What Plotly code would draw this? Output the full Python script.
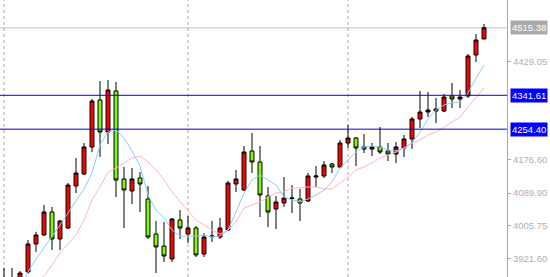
import plotly.graph_objects as go

# ---- data ----
opens = [3840, 3866, 3853, 3886.6, 3958.7, 3981.9, 4041.1, 3971.6, 3999.9, 4108,
         4138.9, 4208.5, 4329.5, 4247.1, 4352.7, 4126.1, 4095.2, 4128.6, 4074.6, 3984.4,
         3953.5, 3920.1, 4020.5, 3984.4, 3999.9, 3932.9, 3977.5, 3976.7, 3994.7, 4113.2,
         4097.7, 4198.2, 4169.8, 4082.3, 4048.8, 4064.3, 4075.9, 4074.6, 4069.4, 4131.2,
         4133.8, 4164.7, 4157, 4218.8, 4231.6, 4208.5, 4203.3, 4208.5, 4198.2, 4190.4,
         4205.9, 4229.1, 4280.6, 4298.6, 4306.3, 4301.2, 4339.8, 4332.1, 4339.8, 4445.4,
         4486.6]
highs = [3897, 3897, 3889.2, 3969, 3989.6, 4059.1, 4054, 4020.5, 4115.8, 4180.1,
         4218.8, 4332.1, 4378.4, 4381, 4375.8, 4157, 4154.4, 4144.1, 4108, 4017.9,
         4015.3, 4025.6, 4046.2, 4030.8, 4005, 3987, 4017.9, 4025.6, 4121, 4149.2,
         4211, 4244.5, 4211, 4105.5, 4082.3, 4131.2, 4110.6, 4100.3, 4141.5, 4159.5,
         4172.4, 4167.3, 4226.5, 4265.1, 4234.2, 4241.9, 4218.8, 4260, 4218.8, 4221.3,
         4239.4, 4285.7, 4352.7, 4350.1, 4334.6, 4344.9, 4373.3, 4355.2, 4447.9, 4499.4,
         4525.2]
lows = [3827, 3845, 3845, 3881.4, 3938.1, 3979.3, 3943.2, 3943.2, 3997.3, 4090,
        4136.4, 4195.6, 4182.7, 4216.2, 4079.7, 3999.9, 4061.7, 4041.1, 3971.6, 3884,
        3912.3, 3912.3, 3971.6, 3961.3, 3925.2, 3925.2, 3963.8, 3971.6, 3992.2, 4092.6,
        4095.2, 4141.5, 4028.2, 4002.5, 3997.3, 4054, 4038.5, 4017.9, 4066.8, 4105.5,
        4128.6, 4141.5, 4154.4, 4205.9, 4159.5, 4193, 4185.3, 4190.4, 4172.4, 4167.3,
        4182.7, 4203.3, 4257.4, 4285.7, 4270.3, 4298.6, 4308.9, 4308.9, 4334.6, 4427.3,
        4486.6]
closes = [3866, 3858, 3884, 3958.7, 3981.9, 4041.1, 3971.6, 4017.9, 4110.6, 4141.5,
          4208.5, 4326.9, 4247.1, 4355.2, 4123.5, 4097.7, 4126.1, 4113.2, 3976.7, 3951,
          3927.8, 4023.1, 3999.9, 3999.9, 3930.4, 3976.7, 3979.3, 3999.9, 4115.8, 4126.1,
          4195.6, 4169.8, 4084.9, 4041.1, 4066.8, 4077.1, 4077.1, 4064.3, 4133.8, 4133.8,
          4162.1, 4157, 4218.8, 4231.6, 4205.9, 4203.3, 4208.5, 4195.6, 4190.4, 4208.5,
          4229.1, 4280.6, 4298.6, 4303.7, 4301.2, 4337.2, 4332.1, 4337.2, 4442.8, 4484,
          4515.38]
ma_fast = [None, None, 3840.2, 3886.6, 3920.1, 3948.4, 3979.3, 4007.6, 4038.5, 4069.4,
           4100.3, 4141.5, 4213.6, 4247.1, 4252.2, 4231.6, 4198.2, 4159.5, 4084.9, 4046.2,
           4025.6, 3994.7, 3979.3, 3979.3, 3979.3, 3981.9, 3976.7, 3979.3, 3994.7, 4041.1,
           4090, 4123.5, 4136.4, 4123.5, 4110.6, 4079.7, 4072, 4066.8, 4074.6, 4084.9,
           4097.7, 4118.3, 4154.4, 4175, 4195.6, 4208.5, 4211, 4208.5, 4200.7, 4198.2,
           4205.9, 4218.8, 4247.1, 4280.6, 4303.7, 4316.6, 4321.8, 4324.3, 4347.5, 4386.1,
           4419.6]
ma_slow = [None, None, None, 3820, 3848, 3876.3, 3904.6, 3935.5, 3958.7, 3981.9,
           4020.5, 4072, 4105.5, 4144.1, 4154.4, 4167.3, 4180.1, 4185.3, 4169.8, 4149.2,
           4123.5, 4092.6, 4066.8, 4043.7, 4020.5, 4007.6, 3994.7, 3984.4, 3994.7, 4015.3,
           4051.4, 4059.1, 4066.8, 4079.7, 4090, 4092.6, 4102.9, 4102.9, 4105.5, 4105.5,
           4100.3, 4100.3, 4115.8, 4131.2, 4149.2, 4157, 4167.3, 4180.1, 4187.9, 4195.6,
           4205.9, 4218.8, 4226.5, 4239.4, 4247.1, 4260, 4272.8, 4285.7, 4311.5, 4337.2,
           4360.4]
bars = list(range(len(opens)))
tick_vals = [4429.05, 4176.60, 4089.90, 4005.75, 3921.60]
tick_text = ["4429.05", "4176.60", "4089.90", "4005.75", "3921.60"]
level_lines = [4341.61, 4254.40]
current_price = 4515.38
separator_bars = [0, 23, 43]

fig = go.Figure()

fig.add_trace(go.Candlestick(
    x=bars, open=opens, high=highs, low=lows, close=closes,
    increasing=dict(fillcolor="#FF0000", line=dict(color="#000000", width=1)),
    decreasing=dict(fillcolor="#7CFC00", line=dict(color="#000000", width=1)),
    whiskerwidth=0, showlegend=False, hoverinfo="skip",
))
fig.add_trace(go.Scatter(x=bars, y=ma_slow, mode="lines",
                         line=dict(color="#FFB6C1", width=1), showlegend=False,
                         hoverinfo="skip"))
fig.add_trace(go.Scatter(x=bars, y=ma_fast, mode="lines",
                         line=dict(color="#87CEFA", width=1), showlegend=False,
                         hoverinfo="skip"))

shapes = []
for b in separator_bars:
    shapes.append(dict(type="line", xref="x", yref="paper", x0=b, x1=b, y0=0, y1=1,
                       line=dict(color="#A8A8A8", width=1, dash="3px,3px"), layer="below"))
shapes.append(dict(type="line", xref="paper", yref="y", x0=0, x1=1,
                   y0=current_price, y1=current_price,
                   line=dict(color="#C0C0C0", width=1), layer="below"))
for lv in level_lines:
    shapes.append(dict(type="line", xref="paper", yref="y", x0=0, x1=1, y0=lv, y1=lv,
                       line=dict(color="#0000DD", width=1)))

annotations = []
for lv, bg in [(current_price, "#ABABAB"), (level_lines[0], "#0000FF"), (level_lines[1], "#0000FF")]:
    annotations.append(dict(xref="paper", yref="y", x=1, y=lv, xanchor="left",
                            yanchor="middle", xshift=3, showarrow=False,
                            text=f"{lv:.2f}", bgcolor=bg, borderpad=1,
                            font=dict(family="Liberation Sans", size=9.5, color="#FFFFFF")))

fig.update_layout(
    width=550, height=277,
    margin=dict(l=0, r=43, t=0, b=0),
    paper_bgcolor="#FFFFFF", plot_bgcolor="#FFFFFF",
    shapes=shapes, annotations=annotations,
    xaxis=dict(range=[-0.5, 62.875], showgrid=False, zeroline=False,
               showticklabels=False, rangeslider=dict(visible=False), fixedrange=True),
    yaxis=dict(range=[3873.7, 4587], side="right", showgrid=False, zeroline=False,
               tickvals=tick_vals, ticktext=tick_text, ticks="outside", ticklen=3,
               tickcolor="#A8A8A8", showline=True, linecolor="#A8A8A8", linewidth=1,
               tickfont=dict(family="Liberation Sans", size=9.5, color="#B0B0B0")),
)

fig.write_html("out.html")
